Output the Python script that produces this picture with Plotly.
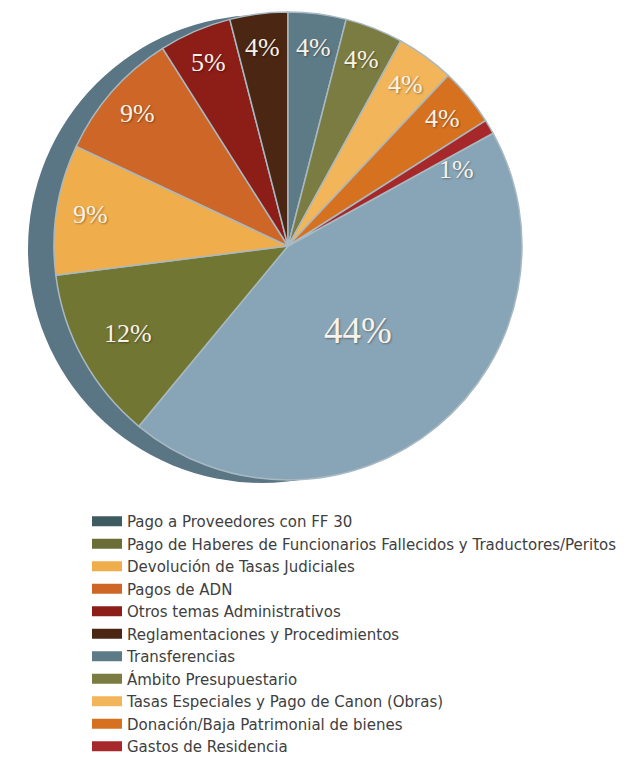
import math
import plotly.graph_objects as go

# ---- data ----
categories = [
    "Pago a Proveedores con FF 30",
    "Pago de Haberes de Funcionarios Fallecidos y Traductores/Peritos",
    "Devolución de Tasas Judiciales",
    "Pagos de ADN",
    "Otros temas Administrativos",
    "Reglamentaciones y Procedimientos",
    "Transferencias",
    "Ámbito Presupuestario",
    "Tasas Especiales y Pago de Canon (Obras)",
    "Donación/Baja Patrimonial de bienes",
    "Gastos de Residencia",
]
values = [44, 12, 9, 9, 5, 4, 4, 4, 4, 4, 1]
slice_colors = ["#87a5b7", "#727633", "#f0ad4c", "#cd6626", "#8c1d17", "#4b2612",
                "#5d7b87", "#7b7c41", "#f2b55a", "#d6721f", "#a6282a"]
legend_colors = ["#3e5b61", "#6a6d35", "#f0ad4c", "#cd6626", "#8c1d17", "#4b2612",
                 "#5d7b87", "#7b7c41", "#f2b55a", "#d6721f", "#a6282a"]
rim_color = "#5a7584"
divider_color = "#a9b9c2"

# ---- layout constants ----
W, H = 627, 757
CX, CY, R = 288, 246, 234
SHADOW_DX, SHADOW_DY = -26, 3
ROTATION = 61.2


def domain(cx, cy, r):
    return dict(x=[(cx - r) / W, (cx + r) / W], y=[1 - (cy + r) / H, 1 - (cy - r) / H])


fig = go.Figure()

# 3D rim (shadow disc behind the pie)
fig.add_trace(go.Pie(
    values=[1], labels=["rim"], marker=dict(colors=[rim_color], line=dict(width=0)),
    domain=domain(CX + SHADOW_DX, CY + SHADOW_DY, R), textinfo="none",
    hoverinfo="skip", showlegend=False, sort=False,
))

fig.add_trace(go.Pie(
    labels=categories, values=values, sort=False, direction="clockwise",
    rotation=ROTATION,
    marker=dict(colors=slice_colors, line=dict(color=divider_color, width=1.5)),
    domain=domain(CX, CY, R), textinfo="none", showlegend=False,
    hovertemplate="%{label}: %{value}%<extra></extra>",
))

# legend entries
for name, col in zip(categories, legend_colors):
    fig.add_trace(go.Scatter(x=[None], y=[None], mode="lines", name=name,
                             line=dict(color=col, width=15), hoverinfo="skip"))

# percentage labels placed from the data angles
total = sum(values)
annotations = []
cum = 0
for v in values:
    mid = ROTATION + (cum + v / 2) / total * 360
    cum += v
    if v >= 30:
        frac, size = 0.47, 37
    elif v >= 10:
        frac, size = 0.78, 26
    else:
        frac, size = 0.855, 26
    if v < 2:
        mid += 6
        frac = 0.79
    a = math.radians(mid)
    px = CX + R * frac * math.sin(a)
    py = CY - R * frac * math.cos(a)
    annotations.append(dict(
        x=px / W, y=1 - py / H, xref="paper", yref="paper",
        text=f"{v}%", showarrow=False, xanchor="center", yanchor="middle",
        font=dict(family="Liberation Serif", size=size, color="#f8f2e8",
                  shadow="1px 1px 2px rgba(0,0,0,0.35)"),
    ))

fig.update_layout(
    width=W, height=H,
    margin=dict(l=0, r=0, t=0, b=0, autoexpand=False),
    paper_bgcolor="white", plot_bgcolor="white",
    xaxis=dict(visible=False), yaxis=dict(visible=False),
    annotations=annotations,
    legend=dict(x=87 / W, y=1 - 505 / H, xanchor="left", yanchor="top",
                font=dict(family="DejaVu Sans", size=15, color="#404040"),
                bgcolor="rgba(0,0,0,0)", tracegroupgap=0),
)

fig.write_html("out.html", config={"displayModeBar": False},
               post_script="document.body.style.margin='0';")
